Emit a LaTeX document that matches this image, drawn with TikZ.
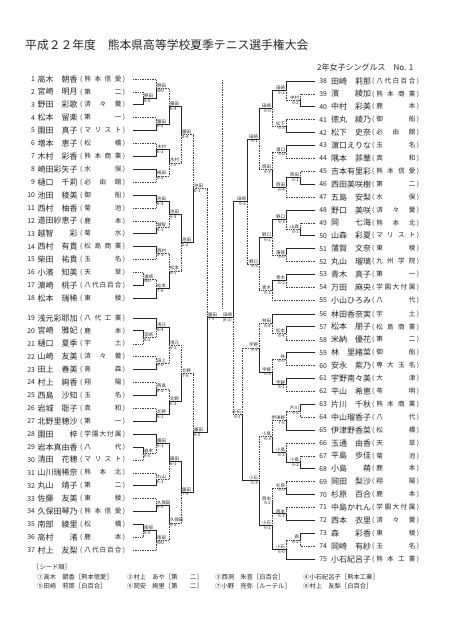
\documentclass[tikz,border=0pt]{standalone}
\usepackage{fontspec}
\setmainfont{Noto Sans CJK JP}
\usetikzlibrary{calc}
\newcommand\hq{\hfill}
\tikzset{
  win/.style={line width=0.95pt,black!85},
  lose/.style={line width=0.45pt,black!75,dash pattern=on 0.7pt off 1pt},
  lab/.style={font=\fontsize{4.4}{4.6}\selectfont,inner sep=0.4pt,text=black!85},
  numf/.style={font=\fontsize{6.8}{7}\selectfont,inner sep=0pt,text=black!85},
  namef/.style={font=\fontsize{8}{8}\selectfont,inner sep=0pt,text=black!85},
  schf/.style={font=\fontsize{6.6}{7}\selectfont,inner sep=0pt,text=black!85},
  legf/.style={font=\fontsize{6.3}{6.5}\selectfont,inner sep=0pt,text=black!85}
}
% left match: name, x, upper child, lower child, winner(1/2), label, score
\newcommand\mL[7]{%
  \path let \p1=(#3), \p2=(#4) in coordinate (#1) at ({#2pt},{(\y1+\y2)/2});
  \ifnum#5=1 \draw[lose] (#4) -| (#1); \draw[win] (#3) -| (#1);
  \else \draw[lose] (#3) -| (#1); \draw[win] (#4) -| (#1); \fi
  \node[lab,anchor=south west,xshift=0.5pt] (#1n) at (#1) {#6};
  \node[lab,anchor=north west,xshift=0.5pt] (#1s) at (#1) {#7};
}
\newcommand\mR[7]{%
  \path let \p1=(#3), \p2=(#4) in coordinate (#1) at ({#2pt},{(\y1+\y2)/2});
  \ifnum#5=1 \draw[lose] (#4) -| (#1); \draw[win] (#3) -| (#1);
  \else \draw[lose] (#3) -| (#1); \draw[win] (#4) -| (#1); \fi
  \node[lab,anchor=south east,xshift=-0.5pt] (#1n) at (#1) {#6};
  \node[lab,anchor=north east,xshift=-0.5pt] (#1s) at (#1) {#7};
}
\newcommand\Lrow[3]{%
  \path let \p1=(p#1) in
    node[numf,anchor=east] (ln#1) at (35pt,\y1) {#1}
    node[namef,anchor=west] (lm#1) at (37.5pt,\y1) {#2}
    node[schf,anchor=west] (ls#1) at (80pt,\y1) {(\hspace{2pt}\makebox[37pt][s]{#3}\hspace{1.5pt})};
}
\newcommand\Rrow[3]{%
  \path let \p1=(p#1) in
    node[numf,anchor=east] (ln#1) at (327pt,\y1) {#1}
    node[namef,anchor=west] (lm#1) at (331pt,\y1) {#2}
    node[schf,anchor=west] (ls#1) at (372pt,\y1) {(\hspace{2pt}\makebox[39pt][s]{#3}\hspace{1.5pt})};
}
\begin{document}
\begin{tikzpicture}[x=1pt,y=1pt]
\fill[white] (0,0) rectangle (450,-637);
\useasboundingbox (0,0) rectangle (450,-637);

% leaf coordinates
\foreach \i in {1,...,18} {\coordinate (p\i) at (133pt,{-(79+(\i-1)*12.9)*1pt});}
\foreach \i in {19,...,37} {\coordinate (p\i) at (133pt,{-(318+(\i-19)*12.9)*1pt});}
\foreach \i in {38,...,55} {\coordinate (p\i) at (315pt,{-(81+(\i-38)*12.9)*1pt});}
\foreach \i in {56,...,75} {\coordinate (p\i) at (315pt,{-(314+(\i-56)*12.9)*1pt});}

% title and header
\node[anchor=west,inner sep=0pt,font=\fontsize{11.8}{12}\selectfont,text=black!85] (title) at (25,-45) {平成２２年度　熊本県高等学校夏季テニス選手権大会};
\node[anchor=west,inner sep=0pt,font=\fontsize{8}{8}\selectfont,text=black!85] (hdr) at (317,-67) {2年女子シングルス　No. 1};

% left list
\Lrow{1}{高木　朝香}{熊\hq 本\hq 信\hq 愛}
\Lrow{2}{宮崎　明月}{第\hq 二}
\Lrow{3}{野田　彩歌}{済\hq 々\hq 黌}
\Lrow{4}{松本　留楽}{第\hq 一}
\Lrow{5}{園田　真子}{マ\hq リ\hq ス\hq ト}
\Lrow{6}{増本　恵子}{松\hq 橋}
\Lrow{7}{木村　彩香}{熊\hq 本\hq 商\hq 業}
\Lrow{8}{崎田彩矢子}{水\hq 俣}
\Lrow{9}{樋口　千莉}{必\hq 由\hq 館}
\Lrow{10}{池田　稜美}{御\hq 船}
\Lrow{11}{西村　柚香}{菊\hq 池}
\Lrow{12}{道田紗恵子}{鹿\hq 本}
\Lrow{13}{越智　　彩}{菊\hq 水}
\Lrow{14}{西村　有貴}{松\hq 島\hq 商\hq 業}
\Lrow{15}{柴田　祐貴}{玉\hq 名}
\Lrow{16}{小濱　知美}{天\hq 草}
\Lrow{17}{濵崎　桃子}{八\hq 代\hq 白\hq 百\hq 合}
\Lrow{18}{松本　瑞稀}{東\hq 稜}
\Lrow{19}{浅元彩耶加}{八\hq 代\hq 工\hq 業}
\Lrow{20}{宮崎　雅妃}{鹿\hq 本}
\Lrow{21}{樋口　夏季}{宇\hq 土}
\Lrow{22}{山崎　友美}{済\hq 々\hq 黌}
\Lrow{23}{田上　春美}{高\hq 森}
\Lrow{24}{村上　絢香}{翔\hq 陽}
\Lrow{25}{西島　沙知}{玉\hq 名}
\Lrow{26}{岩城　聡子}{真\hq 和}
\Lrow{27}{北野里穂沙}{第\hq 一}
\Lrow{28}{園田　　梓}{学\hq 園\hq 大\hq 付\hq 属}
\Lrow{29}{岩本真由香}{八\hq 代}
\Lrow{30}{清田　花穂}{マ\hq リ\hq ス\hq ト}
\Lrow{31}{山川瑞稀奈}{熊\hq 本\hq 北}
\Lrow{32}{丸山　靖子}{第\hq 二}
\Lrow{33}{佐藤　友美}{東\hq 稜}
\Lrow{34}{久保田琴乃}{熊\hq 本\hq 信\hq 愛}
\Lrow{35}{南部　綾里}{松\hq 橋}
\Lrow{36}{高村　　渚}{鹿\hq 本}
\Lrow{37}{村上　友梨}{八\hq 代\hq 白\hq 百\hq 合}

% right list
\Rrow{38}{田崎　莉那}{八\hq 代\hq 白\hq 百\hq 合}
\Rrow{39}{濱　　綾加}{熊\hq 本\hq 商\hq 業}
\Rrow{40}{中村　彩美}{鹿\hq 本}
\Rrow{41}{徳丸　綾乃}{御\hq 船}
\Rrow{42}{松下　史奈}{必\hq 由\hq 館}
\Rrow{43}{濵口えりな}{玉\hq 名}
\Rrow{44}{隅本　菲華}{真\hq 和}
\Rrow{45}{吉本有里彩}{熊\hq 本\hq 信\hq 愛}
\Rrow{46}{西田美咲樹}{第\hq 二}
\Rrow{47}{五島　安梨}{水\hq 俣}
\Rrow{48}{野口　美咲}{済\hq 々\hq 黌}
\Rrow{49}{岡　　七海}{熊\hq 本\hq 北}
\Rrow{50}{山森　彩夏}{マ\hq リ\hq ス\hq ト}
\Rrow{51}{蒲賀　文奈}{東\hq 稜}
\Rrow{52}{丸山　瑠璃}{九\hq 州\hq 学\hq 院}
\Rrow{53}{青木　真子}{第\hq 一}
\Rrow{54}{万田　麻央}{学\hq 園\hq 大\hq 付\hq 属}
\Rrow{55}{小山ひろみ}{八\hq 代}
\Rrow{56}{林田香奈実}{宇\hq 土}
\Rrow{57}{松本　朋子}{松\hq 島\hq 商\hq 業}
\Rrow{58}{米納　優花}{第\hq 二}
\Rrow{59}{林　里緒菜}{御\hq 船}
\Rrow{60}{安永　紫乃}{専\hq 大\hq 玉\hq 名}
\Rrow{61}{宇野南々美}{大\hq 津}
\Rrow{62}{平山　希恵}{苓\hq 明}
\Rrow{63}{片川　千秋}{熊\hq 本\hq 商\hq 業}
\Rrow{64}{中山瑠香子}{八\hq 代}
\Rrow{65}{伊津野香菜}{松\hq 橋}
\Rrow{66}{玉通　由香}{天\hq 草}
\Rrow{67}{平島　歩佳}{菊\hq 池}
\Rrow{68}{小島　　萌}{鹿\hq 本}
\Rrow{69}{岡田　梨沙}{翔\hq 陽}
\Rrow{70}{杉原　百合}{鹿\hq 本}
\Rrow{71}{中島かれん}{学\hq 園\hq 大\hq 付\hq 属}
\Rrow{72}{西本　衣里}{済\hq 々\hq 黌}
\Rrow{73}{森　　彩香}{東\hq 稜}
\Rrow{74}{岡崎　有紗}{玉\hq 名}
\Rrow{75}{小石紀呂子}{熊\hq 本\hq 工\hq 業}

% quarter A
\mL{a1}{143}{p2}{p3}{2}{野田}{6-0}
\mL{a2}{156}{p1}{a1}{2}{野田}{WO}
\mL{a3}{156}{p4}{p5}{2}{園田}{6-2}
\mL{a4}{169}{a2}{a3}{2}{園田}{6-4}
\mL{a5}{156}{p6}{p7}{2}{木村}{6-2}
\mL{a6}{156}{p8}{p9}{1}{崎田}{6-2}
\mL{a7}{169}{a5}{a6}{1}{木村}{7-5}
\mL{a8}{181}{a4}{a7}{1}{園田}{6-4}
\mL{a9}{156}{p10}{p11}{1}{池田}{6-3}
\mL{a10}{156}{p12}{p13}{2}{越智}{6-1}
\mL{a11}{169}{a9}{a10}{1}{池田}{6-3}
\mL{a12}{156}{p14}{p15}{1}{西村}{6-1}
\mL{a13}{143}{p16}{p17}{2}{濵崎}{WO}
\mL{a14}{156}{a13}{p18}{2}{松本}{7-6}
\mL{a15}{169}{a12}{a14}{2}{松本}{6-1}
\mL{a16}{181}{a11}{a15}{1}{池田}{6-2}
\mL{a17}{193}{a8}{a16}{2}{池田}{6-1}
% quarter B
\mL{b1}{143}{p20}{p21}{1}{宮崎}{6-2}
\mL{b2}{156}{p19}{b1}{1}{浅元}{6-4}
\mL{b3}{156}{p22}{p23}{2}{田上}{6-0}
\mL{b4}{169}{b2}{b3}{1}{浅元}{6-1}
\mL{b5}{156}{p24}{p25}{2}{西島}{6-2}
\mL{b6}{156}{p26}{p27}{2}{北野}{6-1}
\mL{b7}{169}{b5}{b6}{2}{北野}{6-2}
\mL{b8}{181}{b4}{b7}{2}{北野}{7-6}
\mL{b9}{143}{p29}{p30}{1}{岩本}{6-0}
\mL{b10}{156}{p28}{b9}{1}{園田}{6-1}
\mL{b11}{156}{p31}{p32}{2}{丸山}{6-1}
\mL{b12}{169}{b10}{b11}{1}{園田}{6-1}
\mL{b13}{156}{p33}{p34}{2}{久保田}{6-3}
\mL{b14}{143}{p35}{p36}{1}{南部}{6-0}
\mL{b15}{156}{b14}{p37}{1}{南部}{WO}
\mL{b16}{169}{b13}{b15}{1}{久保田}{6-3}
\mL{b17}{181}{b12}{b16}{1}{園田}{7-5}
\mL{b18}{193}{b8}{b17}{2}{園田}{6-0}
% quarter C
\mR{c1}{300}{p39}{p40}{2}{中村}{6-2}
\mR{c2}{286}{p38}{c1}{1}{田崎}{6-2}
\mR{c3}{286}{p41}{p42}{2}{松下}{6-3}
\mR{c4}{286}{p43}{p44}{1}{濵口}{6-0}
\mR{c5}{272}{c2}{c3}{1}{田崎}{6-0}
\mR{c7}{300}{p45}{p46}{2}{西田}{6-1}
\mR{c8}{286}{c7}{p47}{1}{西田}{6-4}
\mR{c6}{272}{c4}{c8}{2}{西田}{6-3}
\mR{c9}{259}{c5}{c6}{1}{田崎}{6-1}
\mR{c10}{300}{p49}{p50}{2}{山森}{6-1}
\mR{c11}{286}{p48}{c10}{1}{野口}{6-3}
\mR{c12}{286}{p51}{p52}{1}{蒲賀}{6-0}
\mR{c13}{272}{c11}{c12}{1}{野口}{6-2}
\mR{c14}{286}{p53}{p54}{1}{青木}{6-2}
\mR{c15}{272}{c14}{p55}{1}{青木}{6-1}
\mR{c16}{259}{c13}{c15}{1}{野口}{6-2}
\mR{c17}{247}{c9}{c16}{1}{田崎}{6-3}
% quarter D
\mR{d1}{286}{p57}{p58}{1}{松本}{6-4}
\mR{d2}{272}{p56}{d1}{1}{林田}{6-4}
\mR{d3}{286}{p59}{p60}{1}{林}{6-0}
\mR{d4}{286}{p61}{p62}{1}{宇野}{6-1}
\mR{d5}{272}{d3}{d4}{2}{宇野}{6-3}
\mR{d6}{259}{d2}{d5}{2}{宇野}{6-3}
\mR{d7}{300}{p63}{p64}{1}{片川}{6-2}
\mR{d8}{286}{d7}{p65}{2}{伊津野}{7-6}
\mR{d9}{300}{p67}{p68}{2}{小島}{6-2}
\mR{d10}{286}{p66}{d9}{2}{小島}{6-3}
\mR{d11}{272}{d8}{d10}{2}{小島}{6-3}
\mR{d12}{286}{p69}{p70}{2}{杉原}{6-0}
\mR{d13}{286}{p71}{p72}{2}{西本}{6-3}
\mR{d14}{272}{d12}{d13}{2}{西本}{6-2}
\mR{d15}{300}{p73}{p74}{1}{森}{6-2}
\mR{d16}{286}{d15}{p75}{2}{小石}{6-0}
\mR{d17}{272}{d14}{d16}{2}{小石}{6-2}
\mR{d18}{259}{d11}{d17}{2}{小石}{6-3}
\mR{d19}{242}{d6}{d18}{2}{小石}{6-1}

% half finals and final
\coordinate (lk) at (207,-317);
\coordinate (rk) at (233,-317);
\coordinate (ct) at (222,-80);
\coordinate (cb) at (222,-309);
\draw[lose] (ct) -- (cb);
\draw[lose] (a17) -| (lk);
\draw[win] (b18) -| (lk);
\draw[lose] (d19) -| (rk);
\draw[win] (c17) -| (rk);
\draw[win] (lk) -- (rk);
\node[lab,anchor=south west,xshift=0.5pt] (lkn) at (lk) {園田};
\node[lab,anchor=north west,xshift=0.5pt] (lks) at (lk) {7-5};
\node[lab,anchor=south east,xshift=-0.5pt] (rkn) at (rk) {田崎};
\node[lab,anchor=north east,xshift=-0.5pt] (rks) at (rk) {(6-2)};

% seeds legend
\node[legf,anchor=west] (lg0) at (33,-567) {［シード順］};
\node[legf,anchor=west] (lg1) at (37,-577) {①高木　朝香［熊本信愛］};
\node[legf,anchor=west] (lg2) at (127,-577) {②村上　あや［第　　二］};
\node[legf,anchor=west] (lg3) at (215,-577) {③西洞　朱音［白百合］};
\node[legf,anchor=west] (lg4) at (303,-577) {④小石紀呂子［熊本工業］};
\node[legf,anchor=west] (lg5) at (37,-586) {⑤田崎　莉那［白百合］};
\node[legf,anchor=west] (lg6) at (127,-586) {⑥岡安　絢里［第　　二］};
\node[legf,anchor=west] (lg7) at (215,-586) {⑦小野　亮弥［ルーテル］};
\node[legf,anchor=west] (lg8) at (303,-586) {⑧村上　友梨［白百合］};
\end{tikzpicture}
\end{document}
